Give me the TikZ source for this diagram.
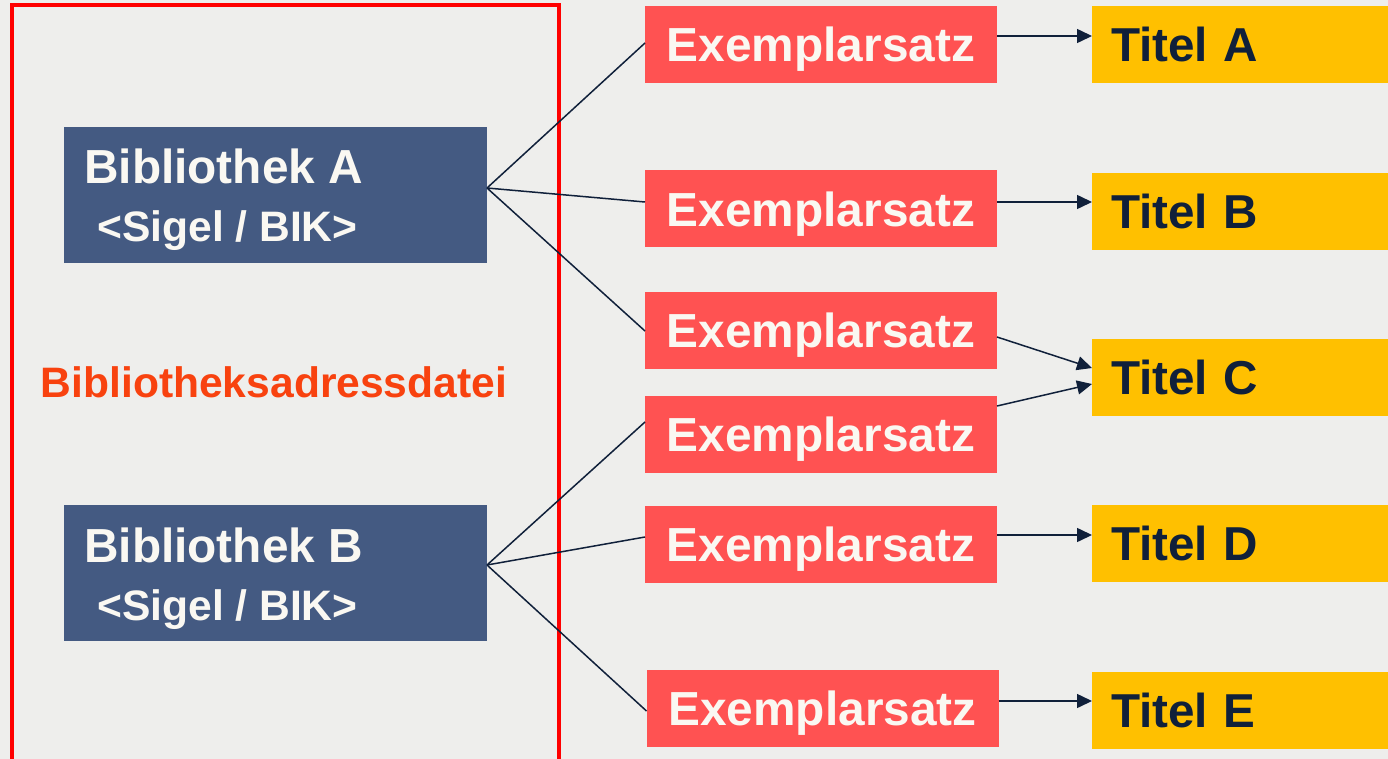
\documentclass[tikz,border=0pt]{standalone}
\usepackage{fontspec}
\setmainfont{Liberation Sans}
\usetikzlibrary{arrows.meta}
\definecolor{bgc}{HTML}{EEEEEC}
\definecolor{bibc}{HTML}{445A82}
\definecolor{exc}{HTML}{FF5252}
\definecolor{titc}{HTML}{FFC000}
\definecolor{navyc}{HTML}{10203A}
\definecolor{wtxt}{HTML}{FAF8F2}
\definecolor{orc}{HTML}{F8420F}
\definecolor{framec}{HTML}{FF0000}
\tikzset{
  box/.style={inner sep=0pt, outer sep=0pt, draw=none},
  bibbox/.style={box, fill=bibc, minimum width=423pt, minimum height=136pt},
  exbox/.style={box, fill=exc, minimum width=352pt, minimum height=77pt, text=wtxt, text depth=0pt,
    font=\bfseries\fontsize{47.8}{50}\selectfont},
  titbox/.style={box, fill=titc, minimum height=77pt, text width=258pt, inner xsep=19pt,
    align=left, text=navyc, font=\bfseries\fontsize{47.6}{50}\selectfont},
  bigtxt/.style={inner sep=0pt, anchor=base west, text=wtxt, font=\bfseries\fontsize{47.8}{50}\selectfont},
  smalltxt/.style={inner sep=0pt, anchor=base west, text=wtxt, font=\bfseries\fontsize{42.6}{45}\selectfont},
  link/.style={draw=navyc, line width=1.5pt},
  arr/.style={draw=navyc, line width=1.5pt, -{Triangle[length=15pt,width=14pt]}},
}
\begin{document}
\begin{tikzpicture}[x=1pt,y=-1pt]
\useasboundingbox (0,0) rectangle (1388,759);
\clip (0,0) rectangle (1388,759);
\fill[bgc] (0,0) rectangle (1388,759);
\node[draw=framec, line width=4pt, inner sep=0pt, minimum width=547.5pt, minimum height=775pt] (frame) at (285.25,392.5) {};

\node[bibbox] (bA) at (275.5,195) {};
\node[bibbox] (bB) at (275.5,573) {};
\node[bigtxt] (bAt) at (84,184) {Bibliothek A};
\node[smalltxt] (bAs) at (97,242) {<Sigel / BIK>};
\node[bigtxt] (bBt) at (84,562) {Bibliothek B};
\node[smalltxt] (bBs) at (97,620) {<Sigel / BIK>};
\node[inner sep=0pt, anchor=base west, text=orc, font=\bfseries\fontsize{42.6}{45}\selectfont] (adr) at (40.5,397) {Bibliotheksadressdatei};

\node[exbox] (e1) at (821,44.5) {Exemplarsatz};
\node[exbox] (e2) at (821,209) {Exemplarsatz};
\node[exbox] (e3) at (821,330) {Exemplarsatz};
\node[exbox] (e4) at (821,434) {Exemplarsatz};
\node[exbox] (e5) at (821,544.5) {Exemplarsatz};
\node[exbox] (e6) at (822.5,708) {Exemplarsatz};

\node[titbox] (tA) at (1240,44.5) {Titel A};
\node[titbox] (tB) at (1240,211.5) {Titel B};
\node[titbox] (tC) at (1240,377.5) {Titel C};
\node[titbox] (tD) at (1240,543.5) {Titel D};
\node[titbox] (tE) at (1240,710.5) {Titel E};

\draw[link] ([yshift=7pt]bA.east) -- ([yshift=1.5pt]e1.west);
\draw[link] ([yshift=7pt]bA.east) -- ([yshift=7pt]e2.west);
\draw[link] ([yshift=7pt]bA.east) -- ([yshift=-1pt]e3.west);
\draw[link] ([yshift=8pt]bB.east) -- ([yshift=12pt]e4.west);
\draw[link] ([yshift=8pt]bB.east) -- ([yshift=7.5pt]e5.west);
\draw[link] ([yshift=8pt]bB.east) -- ([yshift=-3pt]e6.west);

\draw[arr] ([yshift=8.5pt]e1.east) -- ([yshift=8.5pt]tA.west);
\draw[arr] ([yshift=7pt]e2.east) -- ([yshift=9.5pt]tB.west);
\draw[arr] ([yshift=-7pt]e3.east) -- ([yshift=9.5pt]tC.west);
\draw[arr] ([yshift=28pt]e4.east) -- ([yshift=-6.5pt]tC.west);
\draw[arr] ([yshift=9.5pt]e5.east) -- ([yshift=8.5pt]tD.west);
\draw[arr] ([yshift=7pt]e6.east) -- ([yshift=9.5pt]tE.west);
\end{tikzpicture}
\end{document}
